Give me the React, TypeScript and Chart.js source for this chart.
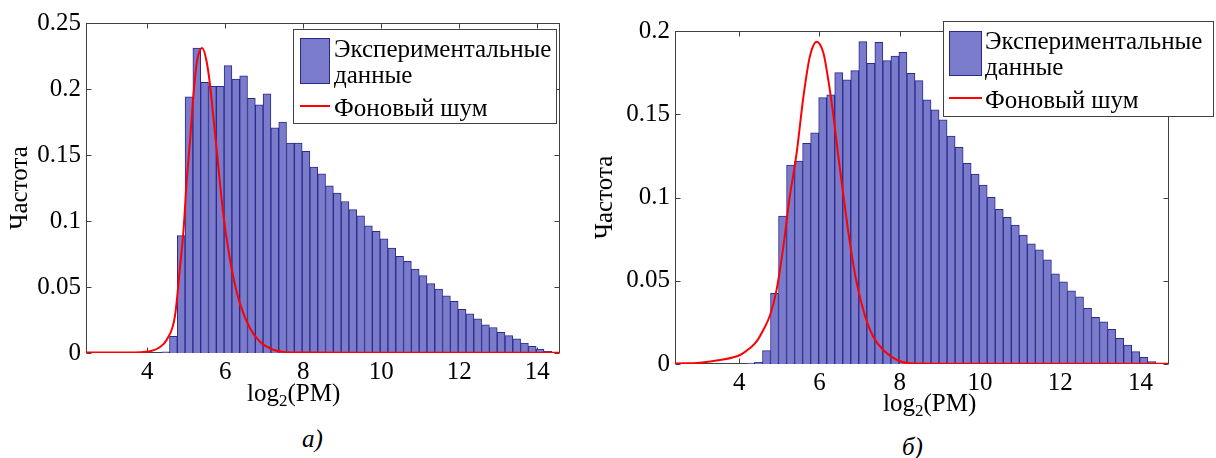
import React, { useEffect, useRef } from "react";
import { Chart, registerables } from "chart.js";

Chart.register(...registerables);

const FONT = "'Liberation Serif', 'Times New Roman', serif";

// ---------- shared ----------
const xTicks = [4, 6, 8, 10, 12, 14];
const xTickLabels = ["4", "6", "8", "10", "12", "14"];
const legendBarText = ["Экспериментальные", "данные"];
const legendLineText = "Фоновый шум";
const yTitle = "Частота";

// ---------- panel а) ----------
const binsA = [
  4.47, 4.67, 4.87, 5.07, 5.27, 5.47, 5.67, 5.87, 6.07, 6.27, 6.47, 6.67, 6.87, 7.07, 7.27, 7.47, 7.67,
  7.87, 8.07, 8.27, 8.47, 8.67, 8.87, 9.07, 9.27, 9.47, 9.67, 9.87, 10.07, 10.27, 10.47, 10.67, 10.87,
  11.07, 11.27, 11.47, 11.67, 11.87, 12.07, 12.27, 12.47, 12.67, 12.87, 13.07, 13.27, 13.47, 13.67,
  13.87, 14.07, 14.27,
];
const freqA = [
  0.0008, 0.0126, 0.0889, 0.194, 0.231, 0.205, 0.202, 0.202, 0.2177, 0.2076, 0.21, 0.193, 0.188, 0.1964,
  0.1705, 0.175, 0.159, 0.159, 0.1527, 0.1409, 0.1358, 0.1267, 0.1212, 0.1148, 0.1086, 0.104, 0.0964,
  0.0921, 0.0864, 0.0795, 0.0732, 0.0694, 0.0636, 0.0586, 0.0525, 0.0485, 0.0434, 0.0391, 0.033, 0.0297,
  0.0259, 0.0213, 0.0193, 0.0157, 0.0132, 0.0107, 0.0076, 0.0051, 0.003, 0.0013,
];
const noiseXA = [
  2.4, 3.0, 3.5, 3.9, 4.1, 4.3, 4.5, 4.71, 4.84, 4.93, 5.01, 5.1, 5.18, 5.27, 5.41, 5.52, 5.61, 5.69, 5.78,
  5.87, 5.95, 6.08, 6.21, 6.38, 6.63, 6.89, 7.23, 7.49, 8.0, 10.0, 14.6,
];
const noiseYA = [
  0.0003, 0.0003, 0.0004, 0.0008, 0.0015, 0.004, 0.01, 0.028, 0.065, 0.093, 0.13, 0.162, 0.194, 0.22, 0.231,
  0.221, 0.203, 0.18, 0.154, 0.127, 0.105, 0.078, 0.057, 0.037, 0.019, 0.0085, 0.0025, 0.0008, 0.0003,
  0.0002, 0.0001,
];
const yTicksA = [0, 0.05, 0.1, 0.15, 0.2, 0.25];
const yTickLabelsA = ["0", "0.05", "0.1", "0.15", "0.2", "0.25"];

// ---------- panel б) ----------
const binsB = [
  4.28, 4.48, 4.68, 4.88, 5.08, 5.28, 5.48, 5.68, 5.88, 6.08, 6.28, 6.48, 6.68, 6.88, 7.08, 7.28, 7.48,
  7.68, 7.88, 8.08, 8.28, 8.48, 8.68, 8.88, 9.08, 9.28, 9.48, 9.68, 9.88, 10.08, 10.28, 10.48, 10.68,
  10.88, 11.08, 11.28, 11.48, 11.68, 11.88, 12.08, 12.28, 12.48, 12.68, 12.88, 13.08, 13.28, 13.48,
  13.68, 13.88, 14.08, 14.28,
];
const freqB = [
  0.0005, 0.001, 0.008, 0.0424, 0.0889, 0.1195, 0.1219, 0.1325, 0.1389, 0.16, 0.1616, 0.175, 0.1706,
  0.1762, 0.1936, 0.1806, 0.1932, 0.1822, 0.185, 0.1872, 0.1746, 0.1702, 0.1586, 0.1526, 0.1466, 0.1369,
  0.1301, 0.1205, 0.1141, 0.1075, 0.1001, 0.0929, 0.0881, 0.0835, 0.0775, 0.0721, 0.0685, 0.0625, 0.0541,
  0.0494, 0.044, 0.0404, 0.0334, 0.028, 0.0254, 0.0208, 0.0154, 0.0114, 0.0074, 0.004, 0.0014,
];
const noiseXB = [
  2.4, 3.02, 3.52, 4.02, 4.26, 4.43, 4.6, 4.77, 4.93, 5.1, 5.26, 5.43, 5.6, 5.76, 5.93, 6.1, 6.22, 6.35,
  6.47, 6.6, 6.76, 6.93, 7.14, 7.34, 7.59, 7.93, 8.26, 9.0, 14.7,
];
const noiseYB = [
  0.0003, 0.0008, 0.0024, 0.0054, 0.0094, 0.0134, 0.0204, 0.0294, 0.0444, 0.0705, 0.1005, 0.1265, 0.1606,
  0.1846, 0.1936, 0.1866, 0.1706, 0.1486, 0.1245, 0.1005, 0.0725, 0.0485, 0.0284, 0.0164, 0.0084, 0.0024,
  0.0004, 0.0002, 0.0001,
];
const yTicksB = [0, 0.05, 0.1, 0.15, 0.2];
const yTickLabelsB = ["0", "0.05", "0.1", "0.15", "0.2"];

const BAR_FILL = "#7b7bcb";
const BAR_EDGE = "#2a2a8c";
const AXIS = "#404040";

const framePlugin = {
  id: "frame",
  beforeDatasetsDraw(chart: any, _a: any, opts: any) {
    const { ctx, chartArea } = chart;
    const L = Math.round(chartArea.left) + 0.5;
    const R = Math.round(chartArea.right) - 0.5;
    const T = Math.round(chartArea.top) + 0.5;
    const B = Math.round(chartArea.bottom) - 0.5;
    ctx.save();
    ctx.strokeStyle = AXIS;
    ctx.lineWidth = 1;
    ctx.strokeRect(L, T, R - L, B - T);
    const tl = 5;
    ctx.beginPath();
    for (const v of opts.xTicks) {
      const px = Math.round(chart.scales.x.getPixelForValue(v)) + 0.5;
      ctx.moveTo(px, B);
      ctx.lineTo(px, B - tl);
      ctx.moveTo(px, T);
      ctx.lineTo(px, T + tl);
    }
    for (const v of opts.yTicks) {
      const py = Math.round(chart.scales.y.getPixelForValue(v)) + 0.5;
      ctx.moveTo(L, py);
      ctx.lineTo(L + tl, py);
      ctx.moveTo(R, py);
      ctx.lineTo(R - tl, py);
    }
    ctx.stroke();
    ctx.restore();
  },
  afterDraw(chart: any, _a: any, opts: any) {
    const { ctx } = chart;
    ctx.save();
    // x-axis title with subscript
    ctx.fillStyle = "#000";
    ctx.textBaseline = "alphabetic";
    ctx.textAlign = "left";
    let cx = opts.titleX;
    const by = opts.titleY;
    ctx.font = `25px ${FONT}`;
    ctx.fillText("log", cx, by);
    cx += ctx.measureText("log").width;
    ctx.font = `17px ${FONT}`;
    ctx.fillText("2", cx, by + 5);
    cx += ctx.measureText("2").width;
    ctx.font = `25px ${FONT}`;
    ctx.fillText("(PM)", cx, by);

    // legend
    const lg = opts.legend;
    ctx.fillStyle = "#fff";
    ctx.fillRect(lg.x, lg.y, lg.w, lg.h);
    ctx.strokeStyle = AXIS;
    ctx.lineWidth = 1;
    ctx.strokeRect(lg.x + 0.5, lg.y + 0.5, lg.w, lg.h);
    ctx.fillStyle = BAR_FILL;
    ctx.fillRect(lg.px, lg.py, lg.pw, lg.ph);
    ctx.strokeStyle = BAR_EDGE;
    ctx.strokeRect(lg.px + 0.5, lg.py + 0.5, lg.pw - 1, lg.ph - 1);
    ctx.strokeStyle = "#ff0000";
    ctx.lineWidth = 2;
    ctx.beginPath();
    ctx.moveTo(lg.px, lg.ly);
    ctx.lineTo(lg.px + lg.pw, lg.ly);
    ctx.stroke();
    ctx.fillStyle = "#000";
    ctx.font = `25px ${FONT}`;
    ctx.fillText(legendBarText[0], lg.tx, lg.b1);
    ctx.fillText(legendBarText[1], lg.tx, lg.b2);
    ctx.fillText(legendLineText, lg.tx, lg.b3);
    ctx.restore();
  },
};

type PanelProps = {
  left: number;
  width: number;
  height: number;
  bins: number[];
  freq: number[];
  nx: number[];
  ny: number[];
  yTicks: number[];
  yLabels: string[];
  yMax: number;
  xMin: number;
  xMax: number;
  pad: { left: number; right: number; top: number };
  yAxisW: number;
  xAxisH: number;
  yTitlePad: number;
  titleX: number;
  titleY: number;
  legend: any;
};

function Panel(p: PanelProps) {
  const ref = useRef<HTMLCanvasElement | null>(null);
  useEffect(() => {
    if (!ref.current) return;
    const tickFont = { family: FONT, size: 25 };
    const chart = new Chart(ref.current, {
      type: "bar",
      data: {
        datasets: [
          {
            type: "line",
            data: p.nx.map((x, i) => ({ x, y: p.ny[i] })),
            borderColor: "#ff0000",
            borderWidth: 2,
            pointRadius: 0,
            cubicInterpolationMode: "monotone",
            order: 0,
          } as any,
          {
            type: "bar",
            data: p.bins.map((x, i) => ({ x, y: p.freq[i] })),
            backgroundColor: BAR_FILL,
            borderColor: BAR_EDGE,
            borderWidth: 1,
            barPercentage: 1,
            categoryPercentage: 1,
            order: 1,
          } as any,
        ],
      },
      options: {
        responsive: false,
        animation: false,
        events: [],
        layout: {
          autoPadding: false,
          padding: { left: p.pad.left, right: p.pad.right, top: p.pad.top, bottom: 0 },
        } as any,
        plugins: {
          legend: { display: false },
          tooltip: { enabled: false },
          frame: {
            xTicks,
            yTicks: p.yTicks,
            titleX: p.titleX,
            titleY: p.titleY,
            legend: p.legend,
          },
        } as any,
        scales: {
          x: {
            type: "linear",
            min: p.xMin,
            max: p.xMax,
            offset: false,
            grid: { display: false, drawTicks: false },
            border: { display: false },
            afterBuildTicks: (s: any) => {
              s.ticks = xTicks.map((v) => ({ value: v }));
            },
            ticks: {
              font: tickFont,
              color: "#000",
              padding: 4,
              maxRotation: 0,
              autoSkip: false,
              callback: (v: any) => xTickLabels[xTicks.indexOf(Number(v))] ?? "",
            },
            afterFit: (s: any) => {
              s.height = p.xAxisH;
            },
          },
          y: {
            min: 0,
            max: p.yMax,
            grid: { display: false, drawTicks: false },
            border: { display: false },
            afterBuildTicks: (s: any) => {
              s.ticks = p.yTicks.map((v) => ({ value: v }));
            },
            ticks: {
              font: tickFont,
              color: "#000",
              padding: 5,
              callback: (v: any) => {
                const i = p.yTicks.findIndex((t) => Math.abs(t - Number(v)) < 1e-9);
                return i >= 0 ? p.yLabels[i] : "";
              },
            },
            title: {
              display: true,
              text: yTitle,
              color: "#000",
              font: { family: FONT, size: 25 },
              padding: { top: p.yTitlePad, bottom: 0 },
            },
            afterFit: (s: any) => {
              s.width = p.yAxisW;
            },
          },
        } as any,
      },
      plugins: [framePlugin as any],
    });
    return () => chart.destroy();
  }, []);
  return (
    <div style={{ position: "absolute", left: p.left, top: 0, width: p.width, height: p.height }}>
      <canvas ref={ref} width={p.width} height={p.height} style={{ width: p.width, height: p.height }} />
    </div>
  );
}

export default function App() {
  const capStyle: React.CSSProperties = {
    position: "absolute",
    fontFamily: FONT,
    fontStyle: "italic",
    fontSize: 25,
    lineHeight: "25px",
    color: "#000",
    whiteSpace: "nowrap",
  };
  return (
    <div
      style={{
        position: "fixed",
        left: 0,
        top: 0,
        width: 1216,
        height: 458,
        background: "#fff",
        overflow: "hidden",
      }}
    >
      <Panel
        left={0}
        width={600}
        height={420}
        bins={binsA}
        freq={freqA}
        nx={noiseXA}
        ny={noiseYA}
        yTicks={yTicksA}
        yLabels={yTickLabelsA}
        yMax={0.25}
        xMin={2.43}
        xMax={14.58}
        pad={{ left: 0, right: 40, top: 23 }}
        yAxisW={86}
        xAxisH={67}
        yTitlePad={5}
        titleX={247}
        titleY={401}
        legend={{ x: 293, y: 29, w: 263, h: 94, px: 300, py: 38, pw: 30, ph: 46, ly: 106, tx: 334, b1: 57, b2: 83, b3: 116 }}
      />
      <Panel
        left={590}
        width={626}
        height={420}
        bins={binsB}
        freq={freqB}
        nx={noiseXB}
        ny={noiseYB}
        yTicks={yTicksB}
        yLabels={yTickLabelsB}
        yMax={0.2}
        xMin={2.4}
        xMax={14.71}
        pad={{ left: 0, right: 47, top: 31 }}
        yAxisW={85}
        xAxisH={56}
        yTitlePad={0}
        titleX={293}
        titleY={411}
        legend={{ x: 353, y: 21, w: 270, h: 95, px: 359, py: 31, pw: 33, ph: 45, ly: 98, tx: 395, b1: 49, b2: 75, b3: 108 }}
      />
      <div style={{ ...capStyle, left: 302, top: 426 }}>а)</div>
      <div style={{ ...capStyle, left: 902, top: 434 }}>б)</div>
    </div>
  );
}
